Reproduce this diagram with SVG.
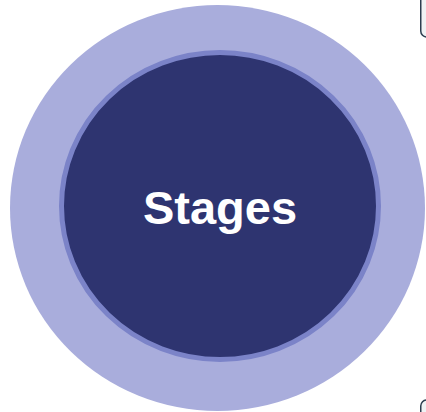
<svg xmlns="http://www.w3.org/2000/svg" width="426" height="412" viewBox="0 0 426 412">
<style>
.edge{fill:#f0f2f4;stroke:#2c3e50;stroke-width:1.5}
.label{font-family:"Liberation Sans",Arial,sans-serif;font-weight:bold;font-size:47px;fill:#ffffff}
</style>
<rect width="426" height="412" fill="#ffffff"/>
<g id="partial-top">
<rect class="edge" x="420.75" y="-20" width="40" height="57" rx="6"/>
</g>
<g id="partial-bottom">
<rect class="edge" x="420.75" y="400" width="40" height="40" rx="6"/>
</g>
<g id="stages">
<ellipse cx="217.5" cy="208" rx="207.5" ry="203" fill="#a9addc"/>
<ellipse cx="220" cy="206" rx="158.5" ry="153.5" fill="#2e3470" stroke="#7b83c8" stroke-width="5"/>
<text class="label" x="220" y="224" text-anchor="middle">Stages</text>
</g>
<g id="connectors"></g>
</svg>
